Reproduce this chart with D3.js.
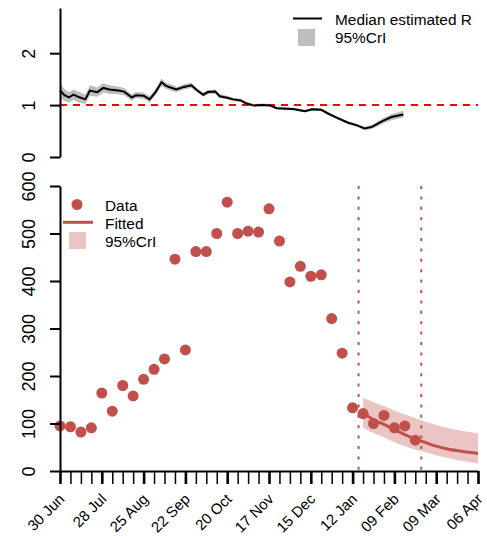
<!DOCTYPE html>
<html>
<head>
<meta charset="utf-8">
<script src="https://cdn.jsdelivr.net/npm/d3@7"></script>
<style>
  body { margin: 0; background: #fff; }
  text { font-family: "Liberation Sans", Arial, sans-serif; fill: #000; }
</style>
</head>
<body>
<svg id="chart" width="487" height="536"></svg>
<script>
// ---- data ----
var startDate = new Date(2020, 5, 30);

// daily reproduction number (days after 30 Jun)
var rDays = [0,3,6,9,13,17,20,25,29,33,39,43,48,51,56,60,64,68,71,76,78,83,88,92,96,99,104,107,112,116,121,125,130,136,141,145,152,157,164,169,175,180,186,193,199,204,209,216,222,230];
var rMedian = [1.28,1.19,1.15,1.20,1.15,1.11,1.28,1.25,1.33,1.30,1.28,1.26,1.15,1.19,1.18,1.11,1.25,1.44,1.37,1.32,1.30,1.35,1.38,1.28,1.20,1.25,1.26,1.17,1.14,1.11,1.09,1.03,0.99,1.00,0.99,0.94,0.93,0.92,0.88,0.92,0.91,0.83,0.75,0.66,0.61,0.55,0.58,0.69,0.77,0.82];
var rLow = [1.14,1.08,1.05,1.10,1.05,1.02,1.18,1.16,1.24,1.22,1.21,1.19,1.09,1.13,1.12,1.05,1.19,1.37,1.31,1.26,1.25,1.30,1.33,1.24,1.16,1.21,1.22,1.13,1.11,1.08,1.06,1.00,0.97,0.98,0.97,0.92,0.91,0.90,0.86,0.89,0.88,0.80,0.72,0.63,0.58,0.52,0.54,0.64,0.71,0.76];
var rHigh = [1.42,1.31,1.25,1.30,1.25,1.20,1.38,1.34,1.42,1.38,1.36,1.33,1.21,1.25,1.24,1.17,1.31,1.51,1.43,1.38,1.35,1.40,1.43,1.32,1.24,1.29,1.30,1.21,1.18,1.14,1.12,1.06,1.02,1.03,1.02,0.97,0.96,0.95,0.91,0.95,0.94,0.86,0.78,0.69,0.64,0.58,0.62,0.74,0.83,0.89];

// weekly observed counts, one per week from 30 Jun
var counts = [95,93,82,91,164,126,180,158,193,214,236,446,255,462,462,500,566,500,505,503,552,484,398,431,410,413,321,248,133,121,100,117,91,95,65];

// fitted projection (days after 30 Jun)
var fitDays = [203,210,217,226,235,242,250,259,270,280];
var fitMid = [122,108,98,84,71,63,54,47,41,37];
var fitLow = [91,80,71,58,48,42,35,28,21,16];
var fitHigh = [154,145,137,125,115,107,99,91,84,79];

var markerDays = [200,242];

var rTicks = [0,1,2];
var countTicks = [0,100,200,300,400,500,600];

// ---- helpers ----
function dayToDate(d) {
  return d3.timeDay.offset(startDate, d);
}

var red = "#c14f4c";
var svg = d3.select("#chart");

var x = d3.scaleTime()
  .domain([startDate, dayToDate(280)])
  .range([60, 478]);

var yR = d3.scaleLinear().domain([0, 2.87]).range([157, 8]);
var yC = d3.scaleLinear().domain([0, 600]).range([471, 186]);

// ---- top panel ----
var rData = rDays.map(function(d, i) {
  return { date: dayToDate(d), m: rMedian[i], lo: rLow[i], hi: rHigh[i] };
});

svg.append("path")
  .datum(rData)
  .attr("fill", "#bebebe")
  .attr("d", d3.area()
    .x(function(d) { return x(d.date); })
    .y0(function(d) { return yR(d.lo); })
    .y1(function(d) { return yR(d.hi); }));

svg.append("line")
  .attr("x1", x.range()[0]).attr("x2", x.range()[1])
  .attr("y1", yR(1)).attr("y2", yR(1))
  .attr("stroke", "#ff0000").attr("stroke-width", 2)
  .attr("stroke-dasharray", "7,6");

svg.append("path")
  .datum(rData)
  .attr("fill", "none")
  .attr("stroke", "#000")
  .attr("stroke-width", 2)
  .attr("d", d3.line()
    .x(function(d) { return x(d.date); })
    .y(function(d) { return yR(d.m); }));

var axR = svg.append("g")
  .attr("transform", "translate(60,0)")
  .call(d3.axisLeft(yR).tickValues(rTicks).tickFormat(d3.format("d")).tickSize(10).tickSizeOuter(0));

// legend top
svg.append("line").attr("x1", 293).attr("x2", 322).attr("y1", 18.5).attr("y2", 18.5)
  .attr("stroke", "#000").attr("stroke-width", 2);
svg.append("rect").attr("x", 298).attr("y", 29).attr("width", 17).attr("height", 17)
  .attr("fill", "#bebebe");
svg.append("text").attr("x", 335).attr("y", 25).attr("font-size", 15.4).text("Median estimated R");
svg.append("text").attr("x", 335).attr("y", 43).attr("font-size", 15.4).text("95%CrI");

// ---- bottom panel ----
var fitData = fitDays.map(function(d, i) {
  return { date: dayToDate(d), m: fitMid[i], lo: fitLow[i], hi: fitHigh[i] };
});

svg.append("path")
  .datum(fitData)
  .attr("fill", "#ebc5c4")
  .attr("d", d3.area()
    .curve(d3.curveMonotoneX)
    .x(function(d) { return x(d.date); })
    .y0(function(d) { return yC(d.lo); })
    .y1(function(d) { return yC(d.hi); }));

svg.selectAll("line.marker")
  .data(markerDays)
  .enter().append("line")
  .attr("class", "marker")
  .attr("x1", function(d) { return x(dayToDate(d)); })
  .attr("x2", function(d) { return x(dayToDate(d)); })
  .attr("y1", yC(600)).attr("y2", yC(0))
  .attr("stroke", red).attr("stroke-width", 2)
  .attr("stroke-dasharray", "3,7.4");

svg.append("path")
  .datum(fitData)
  .attr("fill", "none")
  .attr("stroke", red)
  .attr("stroke-width", 3)
  .attr("d", d3.line()
    .curve(d3.curveMonotoneX)
    .x(function(d) { return x(d.date); })
    .y(function(d) { return yC(d.m); }));

svg.selectAll("circle.pt")
  .data(counts)
  .enter().append("circle")
  .attr("class", "pt")
  .attr("cx", function(d, i) { return x(dayToDate(i * 7)); })
  .attr("cy", function(d) { return yC(d); })
  .attr("r", 5.5)
  .attr("fill", red);

var axC = svg.append("g")
  .attr("transform", "translate(60,0)")
  .call(d3.axisLeft(yC).tickValues(countTicks).tickSize(10).tickSizeOuter(0));

var weekTicks = d3.range(0, 281, 7).map(dayToDate);
var fmt = d3.timeFormat("%d %b");
var axX = svg.append("g")
  .attr("transform", "translate(0," + yC(0) + ")")
  .call(d3.axisBottom(x).tickValues(weekTicks).tickSize(13).tickSizeOuter(0)
    .tickFormat(function(d, i) { return i % 4 === 0 ? fmt(d) : ""; }));

// axis styling, R look
[axR, axC, axX].forEach(function(g) {
  g.select(".domain").attr("stroke", "#000").attr("stroke-width", 2);
  g.selectAll(".tick line").attr("stroke", "#000").attr("stroke-width", 2);
  g.selectAll(".tick text").attr("font-family", "Liberation Sans, Arial, sans-serif");
});

axX.selectAll(".tick line")
  .attr("stroke-width", function(d, i) { return i % 4 === 0 ? 2.6 : 1.5; });

[axR, axC].forEach(function(g) {
  g.selectAll(".tick text")
    .attr("x", null).attr("dy", null)
    .attr("font-size", 18)
    .attr("text-anchor", "middle")
    .attr("transform", "translate(-25,0) rotate(-90)");
});

axX.selectAll(".tick text")
  .attr("y", null).attr("dy", null)
  .attr("text-anchor", "end")
  .attr("font-size", 15)
  .attr("transform", "translate(5,29) rotate(-45)");

// legend bottom
svg.append("circle").attr("cx", 77).attr("cy", 204.5).attr("r", 5.5).attr("fill", red);
svg.append("line").attr("x1", 63).attr("x2", 93).attr("y1", 222.3).attr("y2", 222.3)
  .attr("stroke", red).attr("stroke-width", 3);
svg.append("rect").attr("x", 69).attr("y", 232).attr("width", 17).attr("height", 17)
  .attr("fill", "#ebc5c4");
svg.append("text").attr("x", 105).attr("y", 211).attr("font-size", 15.4).text("Data");
svg.append("text").attr("x", 105).attr("y", 229).attr("font-size", 15.4).text("Fitted");
svg.append("text").attr("x", 105).attr("y", 247).attr("font-size", 15.4).text("95%CrI");
</script>
</body>
</html>
